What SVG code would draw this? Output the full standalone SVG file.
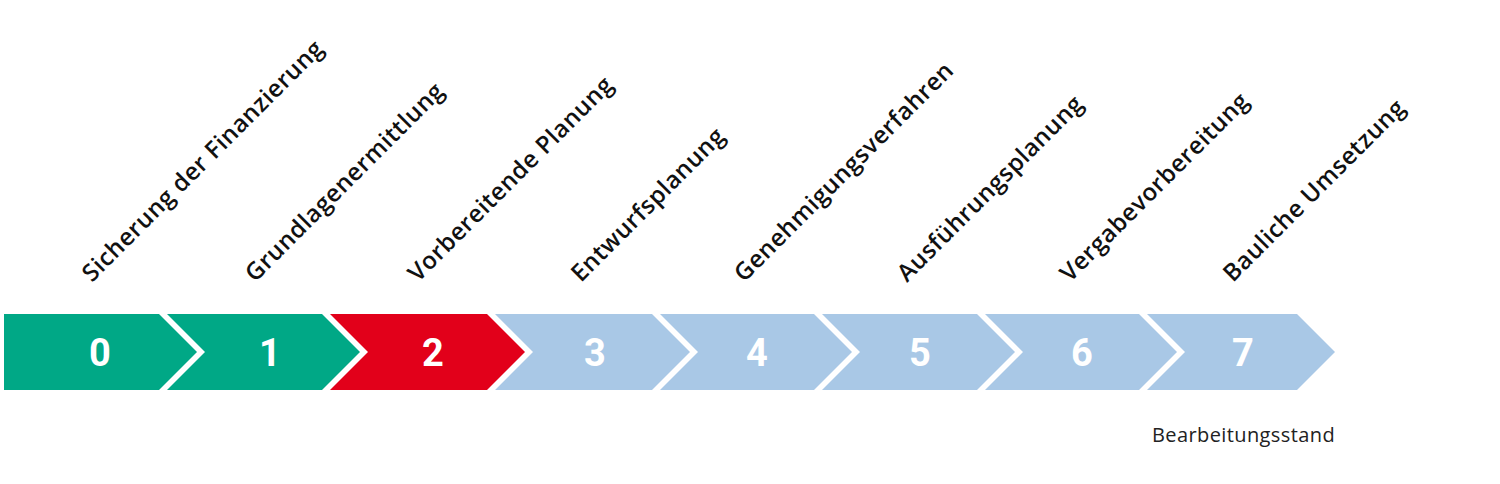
<svg xmlns="http://www.w3.org/2000/svg" width="1500" height="484" viewBox="0 0 1500 484">
<style>
.g{fill:#00A886}.r{fill:#E2001A}.b{fill:#A9C8E6}
.n{font-family:"Roboto","DejaVu Sans",sans-serif;font-weight:700;font-size:38px;fill:#fff;text-anchor:middle}
.l{font-family:"Open Sans","Liberation Sans",sans-serif;font-weight:600;font-size:24px;letter-spacing:0.5px;fill:#111}
.s{font-family:"Open Sans","Liberation Sans",sans-serif;font-size:20px;letter-spacing:0.4px;fill:#222}
</style>
<rect width="1500" height="484" fill="#fff"/>
<g id="step0"><polygon class="g" points="4,314 159,314 197,352 159,390 4,390"/><text class="n" x="100" y="366">0</text><text class="l" transform="translate(92,283) rotate(-45)">Sicherung der Finanzierung</text></g>
<g id="step1"><polygon class="g" points="167,314 322,314 360,352 322,390 167,390 205,352"/><text class="n" x="270" y="366">1</text><text class="l" transform="translate(255,283) rotate(-45)">Grundlagenermittlung</text></g>
<g id="step2"><polygon class="r" points="330,314 487,314 525,352 487,390 330,390 368,352"/><text class="n" x="433" y="366">2</text><text class="l" transform="translate(418,283) rotate(-45)">Vorbereitende Planung</text></g>
<g id="step3"><polygon class="b" points="495,314 652,314 690,352 652,390 495,390 533,352"/><text class="n" x="595" y="366">3</text><text class="l" transform="translate(581,283) rotate(-45)">Entwurfsplanung</text></g>
<g id="step4"><polygon class="b" points="660,314 814,314 852,352 814,390 660,390 698,352"/><text class="n" x="757" y="366">4</text><text class="l" transform="translate(744,283) rotate(-45)">Genehmigungsverfahren</text></g>
<g id="step5"><polygon class="b" points="822,314 977,314 1015,352 977,390 822,390 860,352"/><text class="n" x="920" y="366">5</text><text class="l" transform="translate(907,283) rotate(-45)">Ausführungsplanung</text></g>
<g id="step6"><polygon class="b" points="985,314 1139,314 1177,352 1139,390 985,390 1023,352"/><text class="n" x="1082" y="366">6</text><text class="l" transform="translate(1070,283) rotate(-45)">Vergabevorbereitung</text></g>
<g id="step7"><polygon class="b" points="1147,314 1297,314 1335,352 1297,390 1147,390 1185,352"/><text class="n" x="1243" y="366">7</text><text class="l" transform="translate(1233,283) rotate(-45)">Bauliche Umsetzung</text></g>
<g id="connectors"></g>
<text class="s" x="1152" y="442">Bearbeitungsstand</text>
</svg>
